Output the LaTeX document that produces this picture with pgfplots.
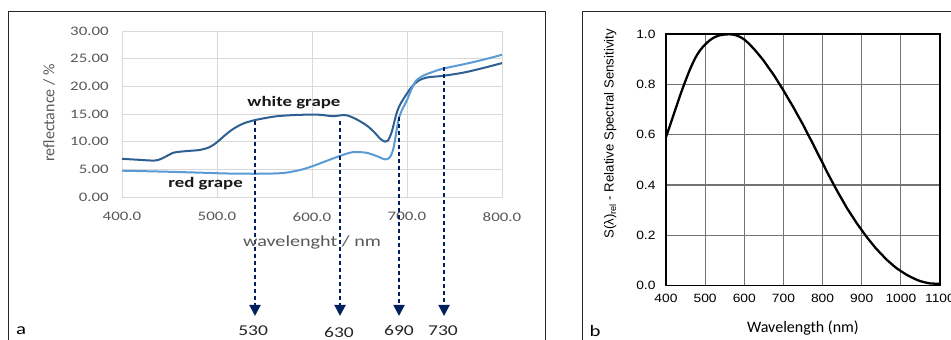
\documentclass[border=0pt]{standalone}
\usepackage{fontspec}
\setmainfont{Carlito}
\usepackage{pgfplots}
\pgfplotsset{compat=1.18}
\usetikzlibrary{arrows.meta}
\newfontfamily\lst{Carlito}[FakeStretch=1.3]
\newfontfamily\rsans{Liberation Sans}[FakeStretch=1.15]
\newfontfamily\rsansN{Liberation Sans}
\definecolor{wg}{HTML}{2E5F91}
\definecolor{rg}{HTML}{5B9BD5}
\definecolor{navy}{HTML}{002060}
\definecolor{txtgrey}{HTML}{595959}
\definecolor{gridgrey}{HTML}{D9D9D9}
\begin{document}
\begin{tikzpicture}
\useasboundingbox (0pt,0pt) rectangle (951pt,340pt);
\fill[white] (0pt,0pt) rectangle (951pt,340pt);
\draw[line width=1pt, black!85] (8pt,-2pt) -- (8pt,328pt) -- (545pt,328pt) -- (545pt,-2pt);
\draw[line width=1pt, black!85] (582pt,-2pt) -- (582pt,328pt) -- (953pt,328pt);
\node[inner sep=0pt] at (21pt,9pt) {\fontsize{16}{18}\selectfont\lst a};
\node[inner sep=0pt] at (595pt,9pt) {\fontsize{16}{18}\selectfont\lst b};

\begin{axis}[
  at={(122pt,143pt)}, anchor=south west, scale only axis,
  width=380pt, height=166pt,
  xmin=400, xmax=800, ymin=0, ymax=30,
  xtick={400,500,600,700,800}, ytick={0,5,10,15,20,25,30},
  grid=major, major grid style={gridgrey, line width=0.8pt},
  axis line style={gridgrey, line width=0.8pt},
  major tick length=0pt,
  clip=false,
  /pgf/number format/assume math mode=true,
  tick label style={font=\fontsize{13}{15}\selectfont\lst, text=txtgrey},
  yticklabel style={/pgf/number format/fixed, /pgf/number format/fixed zerofill, /pgf/number format/precision=2, xshift=-9.7pt},
  xticklabel style={/pgf/number format/fixed, /pgf/number format/fixed zerofill, /pgf/number format/precision=1, yshift=-11.7pt},
  xlabel={wavelenght / nm},
  ylabel={reflectance / \%},
  xlabel style={at={(axis description cs:0.5,-0.271)}, anchor=center, font=\fontsize{15.5}{17}\selectfont\lst, text=txtgrey},
  ylabel style={at={(axis description cs:-0.192,0.506)}, anchor=center, font=\fontsize{16}{18}\selectfont, text=txtgrey},
]
\addplot[wg, line width=2pt, smooth, tension=0.5] coordinates {
(400,6.9) (415,6.75) (435,6.6) (445,7.2) (454,8.0) (468,8.3) (482,8.5) (492,9.0) (500,9.9) (508,11.1) (517,12.3) (528,13.3) (540,13.9) (552,14.3) (563,14.6) (580,14.8) (601,14.9) (612,14.8) (622,14.6) (635,14.8) (645,14.2) (657,13.0) (665,11.8) (672,10.5) (677,10.0) (680,10.2) (684,11.8) (689,15.1) (693,16.8) (700,18.7) (705,19.9) (712,21.0) (721,21.6) (738,21.9) (760,22.5) (780,23.3) (800,24.2)
};
\addplot[rg, line width=2pt, smooth, tension=0.5] coordinates {
(400,4.75) (440,4.6) (482,4.4) (510,4.25) (540,4.2) (560,4.25) (573,4.4) (588,4.9) (601,5.6) (615,6.5) (629,7.4) (643,8.1) (657,8.0) (668,7.4) (677,6.8) (682,7.2) (686,9.0) (691,13.9) (695,15.8) (700,17.5) (705,19.6) (710,21.1) (718,22.0) (727,22.6) (738,23.2) (760,24.0) (780,24.8) (800,25.7)
};
\addplot[navy, line width=2pt, dash pattern=on 4pt off 3pt, -{Triangle[width=11pt,length=11pt]}] coordinates {(540,13.8) (540,-21.5)};
\addplot[navy, line width=2pt, dash pattern=on 4pt off 3pt, -{Triangle[width=11pt,length=11pt]}] coordinates {(629.5,13.8) (629.5,-21.5)};
\addplot[navy, line width=2pt, dash pattern=on 4pt off 3pt, -{Triangle[width=11pt,length=11pt]}] coordinates {(691.6,14.5) (691.6,-21.5)};
\addplot[navy, line width=2pt, dash pattern=on 4pt off 3pt, -{Triangle[width=11pt,length=11pt]}] coordinates {(739,23.5) (739,-21.5)};
\node[font=\fontsize{15}{17}\selectfont\lst, text=black!85] at (axis cs:538,-24.2) {530};
\node[font=\fontsize{15}{17}\selectfont\lst, text=black!85] at (axis cs:628.4,-24.4) {630};
\node[font=\fontsize{15}{17}\selectfont\lst, text=black!85] at (axis cs:691.6,-24.2) {690};
\node[font=\fontsize{15}{17}\selectfont\lst, text=black!85] at (axis cs:737.9,-24.2) {730};
\node[font=\fontsize{14.5}{16}\selectfont\lst\bfseries, text=black!90] at (axis cs:581,17.0) {white grape};
\node[font=\fontsize{14.5}{16}\selectfont\lst\bfseries, text=black!90] at (axis cs:488,2.5) {red grape};
\end{axis}

\begin{axis}[
  at={(666pt,54.3pt)}, anchor=south west, scale only axis,
  width=274pt, height=251.7pt,
  xmin=400, xmax=1100, ymin=0, ymax=1,
  xtick={400,500,600,700,800,900,1000,1100}, ytick={0,0.2,0.4,0.6,0.8,1},
  grid=major, major grid style={black!55, line width=1.2pt},
  axis line style={black, line width=1.5pt},
  major tick length=0pt,
  /pgf/number format/assume math mode=true,
  tick label style={font=\fontsize{12}{14}\selectfont\rsans, text=black},
  yticklabel style={/pgf/number format/fixed, /pgf/number format/fixed zerofill, /pgf/number format/precision=1, xshift=-7pt},
  xticklabel style={/pgf/number format/1000 sep={}, yshift=-5pt},
  xlabel={Wavelength (nm)},
  ylabel={S(λ)\textsubscript{rel} - Relative Spectral Sensitivity},
  xlabel style={at={(axis description cs:0.5,-0.168)}, anchor=center, font=\fontsize{16}{18}\selectfont},
  ylabel style={at={(axis description cs:-0.204,0.603)}, anchor=center, font=\fontsize{13.2}{16}\selectfont\rsansN},
]
\addplot[black, line width=2.3pt, smooth, tension=0.6] coordinates {
(400,0.59) (412,0.645) (425,0.705) (437,0.76) (450,0.815) (462,0.862) (475,0.905) (487,0.935) (500,0.958) (512,0.975) (525,0.988) (537,0.995) (550,0.998) (562,0.999) (575,0.997) (587,0.99) (600,0.978) (612,0.961) (625,0.94) (637,0.918) (650,0.893) (662,0.866) (675,0.838) (687,0.808) (700,0.776) (712,0.744) (725,0.71) (737,0.676) (750,0.64) (762,0.603) (775,0.565) (787,0.527) (800,0.488) (812,0.45) (825,0.412) (837,0.377) (850,0.342) (862,0.309) (875,0.278) (887,0.249) (900,0.221) (912,0.195) (925,0.17) (937,0.147) (950,0.126) (962,0.106) (975,0.088) (987,0.072) (1000,0.058) (1012,0.046) (1025,0.035) (1037,0.026) (1050,0.018) (1062,0.013) (1075,0.009) (1087,0.008) (1098,0.008)
};
\end{axis}
\end{tikzpicture}
\end{document}
